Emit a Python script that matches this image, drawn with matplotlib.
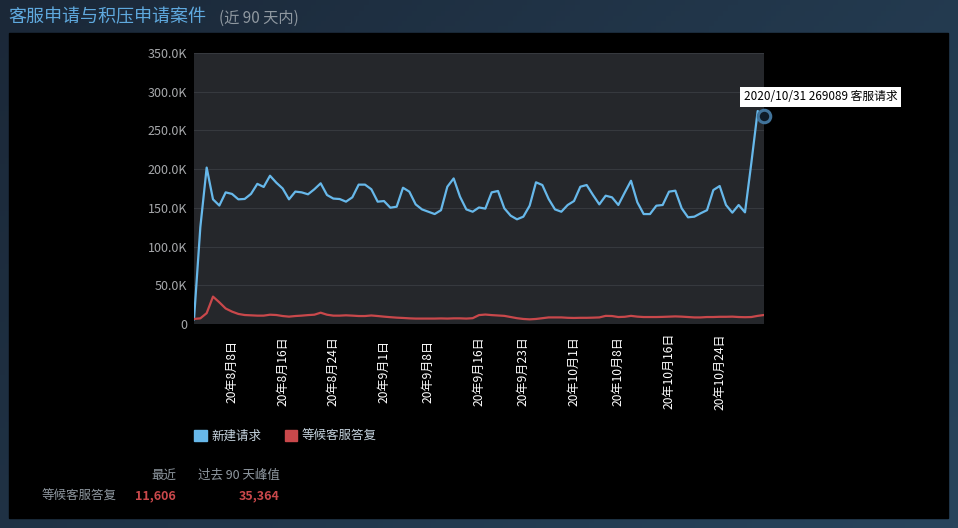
import matplotlib
matplotlib.use('Agg')
import matplotlib.pyplot as plt
import numpy as np
import pandas as pd
from matplotlib.patches import Patch, Rectangle

plt.rcParams['font.family'] = ['Noto Sans CJK SC', 'DejaVu Sans']

# Données (90 derniers jours)
dates = pd.date_range('2020-08-02', '2020-10-31', freq='D')

new_requests = [
    6000, 125000, 202000, 161000, 153000, 170000, 168000, 161000, 161500, 168000,
    181000, 177000, 191500, 182500, 175000, 161000, 171000, 170000, 167500, 174000,
    181700, 166600, 162000, 161400, 158000, 163600, 180000, 180000, 174000, 158000,
    158800, 150200, 151500, 176000, 170900, 154500, 148000, 145000, 142000, 147000,
    177300, 188000, 164400, 148000, 145000, 150500, 149000, 170000, 171800, 149400,
    139900, 135200, 138600, 152800, 183000, 179500, 161400, 148000, 145000, 153700,
    158800, 177300, 179500, 166600, 154500, 165700, 163600, 153700, 169600, 185000,
    157200, 142000, 142000, 152800, 153700, 170900, 172200, 149400, 137800, 138600,
    143000, 147000, 173000, 178200, 153700, 143800, 153700, 144200, 208000, 275000,
    269089,
]

waiting = [
    6500, 7300, 14000, 35364, 28000, 20000, 16000, 13000, 11600, 11200,
    10800, 10800, 12000, 11600, 10300, 9500, 10300, 10800, 11500, 12000,
    14600, 12000, 10800, 10800, 11200, 10800, 10300, 10300, 11000, 10300,
    9500, 8800, 8200, 7800, 7300, 7000, 7000, 7000, 7000, 7200,
    7000, 7300, 7300, 7000, 7500, 11500, 12200, 11500, 11000, 10500,
    9000, 7500, 6500, 6000, 6500, 7500, 8500, 8500, 8500, 8000,
    7800, 8000, 8000, 8200, 8500, 10500, 10300, 9000, 9300, 10500,
    9500, 9000, 9000, 9000, 9200, 9500, 9800, 9500, 9000, 8500,
    8500, 9000, 9000, 9300, 9300, 9500, 9000, 8800, 9000, 10500,
    11606,
]

tick_dates = ['2020-08-08', '2020-08-16', '2020-08-24', '2020-09-01', '2020-09-08',
              '2020-09-16', '2020-09-23', '2020-10-01', '2020-10-08', '2020-10-16',
              '2020-10-24']

y_ticks = [0, 50000, 100000, 150000, 200000, 250000, 300000, 350000]

series_names = ['新建请求', '等候客服答复']
tooltip_name = '客服请求'
latest_waiting = 11606
peak_waiting = 35364

BLUE = '#67b8ea'
RED = '#c9484b'

W, H = 958, 528
fig = plt.figure(figsize=(W / 100, H / 100), dpi=100)


def px(x, y):
    # pixels -> coordonnées figure
    return x / W, 1 - y / H


# Fond dégradé + panneau noir
bg = fig.add_axes([0, 0, 1, 1], zorder=-10)
bg.set_xlim(0, W)
bg.set_ylim(H, 0)
bg.axis('off')
gx = np.linspace(0, 1, 200)[None, :]
gy = np.linspace(0, 1, 100)[:, None]
t = np.clip(0.65 * gx + 0.35 * gy, 0, 1)
c0 = np.array([27, 40, 56]) / 255
c1 = np.array([40, 68, 92]) / 255
grad = c0[None, None, :] * (1 - t[..., None]) + c1[None, None, :] * t[..., None]
bg.imshow(grad, extent=(0, W, H, 0), aspect='auto')
bg.add_patch(Rectangle((9, 33), 939, 485, color='black'))

# Titre
fig.text(*px(8, 17), '客服申请与积压申请案件', fontsize=13, color='#5fa9de',
         ha='left', va='center')
fig.text(*px(219, 18), '(近 90 天内)', fontsize=11, color='#8f98a0',
         ha='left', va='center')

# Graphique principal
ax = fig.add_axes([194 / W, 1 - 324 / H, 570 / W, 271 / H])
ax.set_facecolor('#25272b')
ax.plot(dates, new_requests, color=BLUE, lw=1.6, zorder=3)
ax.plot(dates, waiting, color=RED, lw=1.6, zorder=3)

ax.set_xlim(dates[0], dates[-1])
ax.set_ylim(0, 350000)
ax.set_yticks(y_ticks)
ax.set_yticklabels(['0' if v == 0 else f'{v / 1000:.1f}K' for v in y_ticks])
ax.grid(axis='y', color='#36393e', lw=0.8)
ax.set_axisbelow(True)
for s in ax.spines.values():
    s.set_visible(False)

ticks = pd.to_datetime(tick_dates)
ax.set_xticks(ticks)
ax.set_xticklabels([f'20年{d.month}月{d.day}日' for d in ticks], rotation=90,
                   va='center', ha='center')
ax.tick_params(axis='x', length=0, pad=34, labelsize=8.7, labelcolor='white')
ax.tick_params(axis='y', length=0, pad=5, labelsize=9, labelcolor='#a7a9ac')

# Point survolé + infobulle
last = dates[-1]
ax.plot([last], [new_requests[-1]], marker='o', ms=9, mfc='#0f1c28',
        mec='#41739a', mew=2.2, clip_on=False, zorder=4)
ax.annotate(f'{last.year}/{last.month}/{last.day} {new_requests[-1]} {tooltip_name}',
            xy=(last, new_requests[-1]), xytext=(-20, 19), textcoords='offset pixels',
            ha='left', va='center', fontsize=8.5, color='black',
            bbox=dict(boxstyle='square,pad=0.3', fc='white', ec='none'),
            annotation_clip=False, zorder=5)

# Légende
handles = [Patch(color=BLUE, label=series_names[0]),
           Patch(color=RED, label=series_names[1])]
fig.legend(handles=handles, loc='center left', bbox_to_anchor=px(183, 436),
           ncol=2, frameon=False, fontsize=9, labelcolor='#c6d4df',
           handlelength=1.0, handleheight=1.0, handletextpad=0.35,
           columnspacing=1.9)

# Statistiques
grey = '#8f98a0'
fig.text(*px(176, 475), '最近', fontsize=9, color=grey, ha='right', va='center')
fig.text(*px(280, 475), '过去 90 天峰值', fontsize=9, color=grey, ha='right', va='center')
fig.text(*px(117, 496), series_names[1], fontsize=9, color=grey, ha='right', va='center')
fig.text(*px(176, 496), f'{latest_waiting:,}', fontsize=9, color=RED,
         fontweight='bold', ha='right', va='center')
fig.text(*px(280, 496), f'{peak_waiting:,}', fontsize=9, color=RED,
         fontweight='bold', ha='right', va='center')

fig.savefig('out.png', dpi=100)
